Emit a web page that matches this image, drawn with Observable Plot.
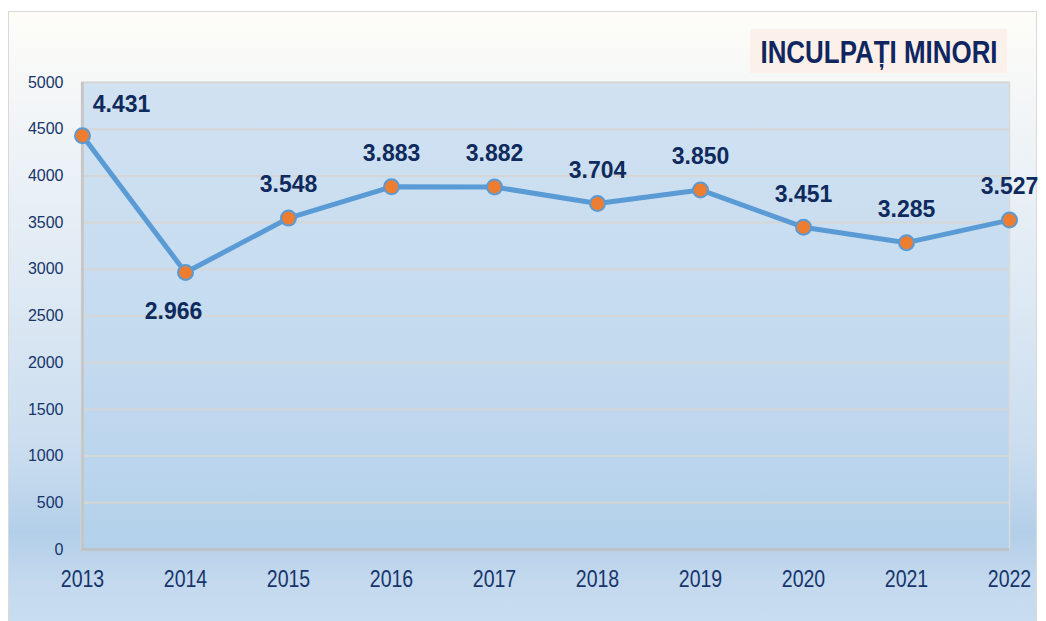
<!DOCTYPE html>
<html>
<head>
<meta charset="utf-8">
<script src="https://cdn.jsdelivr.net/npm/d3@7"></script>
<script src="https://cdn.jsdelivr.net/npm/@observablehq/plot@0.6"></script>
<style>
  html, body { margin: 0; padding: 0; background: #ffffff; overflow: hidden; }
  #wrap { position: relative; width: 1046px; height: 621px; }
  #bg {
    position: absolute; left: 8px; top: 11px; width: 1027px; height: 620px;
    border: 1px solid #d9d9d9;
    background: linear-gradient(to bottom, #fefdf8 0%, #eef3f7 22%, #dae7f3 50%, #c9dcef 72%, #b2cfe9 84%, #c4d9ee 92%, #cadef1 100%);
  }
  #chart { position: absolute; left: 0; top: 0; }
  #title {
    position: absolute; left: 750px; top: 29px; width: 257px; height: 44px;
    background: #fcf0ea; overflow: hidden;
  }
  #title span {
    position: absolute; left: 50%; top: 0;
    transform: translateX(-50%) scaleX(0.81);
    white-space: nowrap;
    color: #0f2660;
    font-family: "Liberation Sans", Arial, sans-serif;
    font-weight: bold; font-size: 32px; line-height: 46px;
  }
</style>
</head>
<body>
<svg width="0" height="0" style="position:absolute">
  <defs>
    <linearGradient id="plotGrad" x1="0" y1="0" x2="0" y2="1">
      <stop offset="0%" stop-color="#d1e2f2"/>
      <stop offset="60%" stop-color="#c3daef"/>
      <stop offset="100%" stop-color="#b3d1eb"/>
    </linearGradient>
  </defs>
</svg>
<div id="wrap">
  <div id="bg"></div>
  <div id="chart"></div>
  <div id="title"><span>INCULPAȚI MINORI</span></div>
</div>
<script>
const years = ["2013", "2014", "2015", "2016", "2017", "2018", "2019", "2020", "2021", "2022"];
const values = [4431, 2966, 3548, 3883, 3882, 3704, 3850, 3451, 3285, 3527];
const valueLabels = ["4.431", "2.966", "3.548", "3.883", "3.882", "3.704", "3.850", "3.451", "3.285", "3.527"];
const yTicks = [0, 500, 1000, 1500, 2000, 2500, 3000, 3500, 4000, 4500, 5000];

const data = years.map((y, i) => ({year: y, value: values[i], label: valueLabels[i]}));

const labelFont = {fontFamily: "Liberation Sans, Arial, sans-serif", fontWeight: "bold", fontSize: 23, fill: "#0f2a5c"};

const chart = Plot.plot({
  width: 1046,
  height: 621,
  marginLeft: 81,
  marginRight: 37,
  marginTop: 82,
  marginBottom: 72,
  style: {background: "transparent", fontFamily: "Liberation Sans, Arial, sans-serif"},
  x: {type: "point", domain: years, padding: 0, label: null},
  y: {domain: [0, 5000], label: null},
  marks: [
    Plot.frame({fill: "url(#plotGrad)", stroke: "#dadada", strokeWidth: 1.5}),
    Plot.ruleY(yTicks.filter(d => d > 0), {stroke: "#d6d6d6", strokeWidth: 2}),
    Plot.ruleY([0], {stroke: "#bfbfbf", strokeWidth: 2.5}),
    Plot.ruleX([years[0]], {stroke: "#c4c4c4", strokeWidth: 2.5}),
    Plot.axisY({ticks: yTicks, tickSize: 0, tickPadding: 18, fontSize: 16, fill: "#17356b", tickFormat: d => String(d)}),
    Plot.axisX({tickSize: 0, tickPadding: 21, fontSize: 23, fill: "#17356b"}),
    Plot.line(data, {x: "year", y: "value", stroke: "#5b9bd5", strokeWidth: 5}),
    Plot.dot(data, {x: "year", y: "value", r: 7.5, fill: "#ed7d31", stroke: "#5b9bd5", strokeWidth: 2}),
    Plot.text(data.filter(d => d.year !== "2013" && d.year !== "2014"), {x: "year", y: "value", text: "label", dy: -33, ...labelFont}),
    Plot.text(data.filter(d => d.year === "2013"), {x: "year", y: "value", text: "label", dx: 39, dy: -31, ...labelFont}),
    Plot.text(data.filter(d => d.year === "2014"), {x: "year", y: "value", text: "label", dx: -12, dy: 39, ...labelFont})
  ]
});
// condensed look for the x tick labels (Arial Narrow in the original)
chart.querySelectorAll('[aria-label="x-axis tick label"] text').forEach(t => {
  const tr = t.getAttribute("transform") || "";
  t.setAttribute("transform", tr + " scale(0.85,1)");
});
document.getElementById("chart").appendChild(chart);
</script>
</body>
</html>
